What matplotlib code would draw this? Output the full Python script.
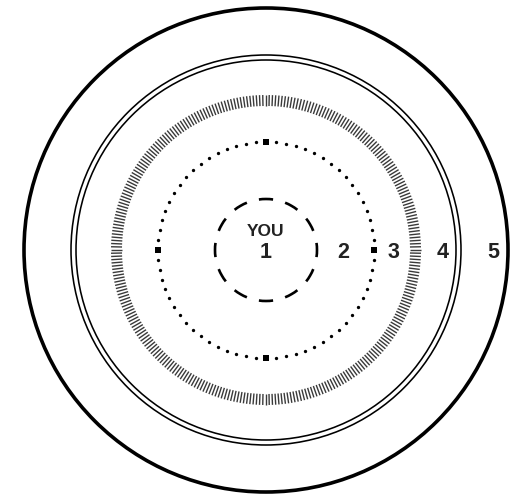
import numpy as np
import matplotlib
matplotlib.use("Agg")
import matplotlib.pyplot as plt
from matplotlib.patches import Circle, Arc
from matplotlib.collections import LineCollection

# ring labels, 1 = "YOU" in the middle
ring_labels = ["1", "2", "3", "4", "5"]
center_label = "YOU"

# ring radii (pixels) of the drawn boundaries
r_dashed = 51
r_dotted = 108
r_ticks = 150
r_double = [195, 190]
r_outer = 242

cx, cy = 266, 250
label_dx = [0, 77, 127, 177, 227]

fig = plt.figure(figsize=(5.19, 5.01), dpi=100)
ax = fig.add_axes([0, 0, 1, 1])
ax.set_xlim(0, 519)
ax.set_ylim(501, 0)
ax.set_aspect("equal")
ax.axis("off")

# outer ring
ax.add_patch(Circle((cx, cy), r_outer, fill=False, lw=2.6, ec="black"))

# double ring
for r in r_double:
    ax.add_patch(Circle((cx, cy), r, fill=False, lw=1.15, ec="black"))

# ring of small radial ticks
n_ticks = 300
th = np.linspace(0, 2 * np.pi, n_ticks, endpoint=False)
segs = [[(cx + (r_ticks - 6) * np.cos(t), cy + (r_ticks - 6) * np.sin(t)),
         (cx + (r_ticks + 5) * np.cos(t), cy + (r_ticks + 5) * np.sin(t))] for t in th]
ax.add_collection(LineCollection(segs, colors="#3a3a3a", linewidths=1.0))

# dotted ring, with bigger dots at the four main directions
n_dots = 68
th = np.linspace(0, 2 * np.pi, n_dots, endpoint=False)
ax.plot(cx + r_dotted * np.cos(th), cy + r_dotted * np.sin(th), "o",
        color="black", ms=2.4, mew=0)
th4 = np.array([0, 0.5, 1, 1.5]) * np.pi
ax.plot(cx + r_dotted * np.cos(th4), cy + r_dotted * np.sin(th4), "s",
        color="black", ms=4, mew=0)

# dashed ring around YOU
for k in range(12):
    a = k * 30
    ax.add_patch(Arc((cx, cy), 2 * r_dashed, 2 * r_dashed, theta1=a - 8, theta2=a + 8,
                     lw=1.9, color="black"))

font = dict(family="Liberation Sans", weight="bold", color="#222222",
            ha="center", va="center")
ax.text(cx, 232, center_label, fontsize=12.5, **font)
for lab, dx in zip(ring_labels, label_dx):
    ax.text(cx + dx, 253, lab, fontsize=15.5, **font)

fig.savefig("out.png", dpi=100)
